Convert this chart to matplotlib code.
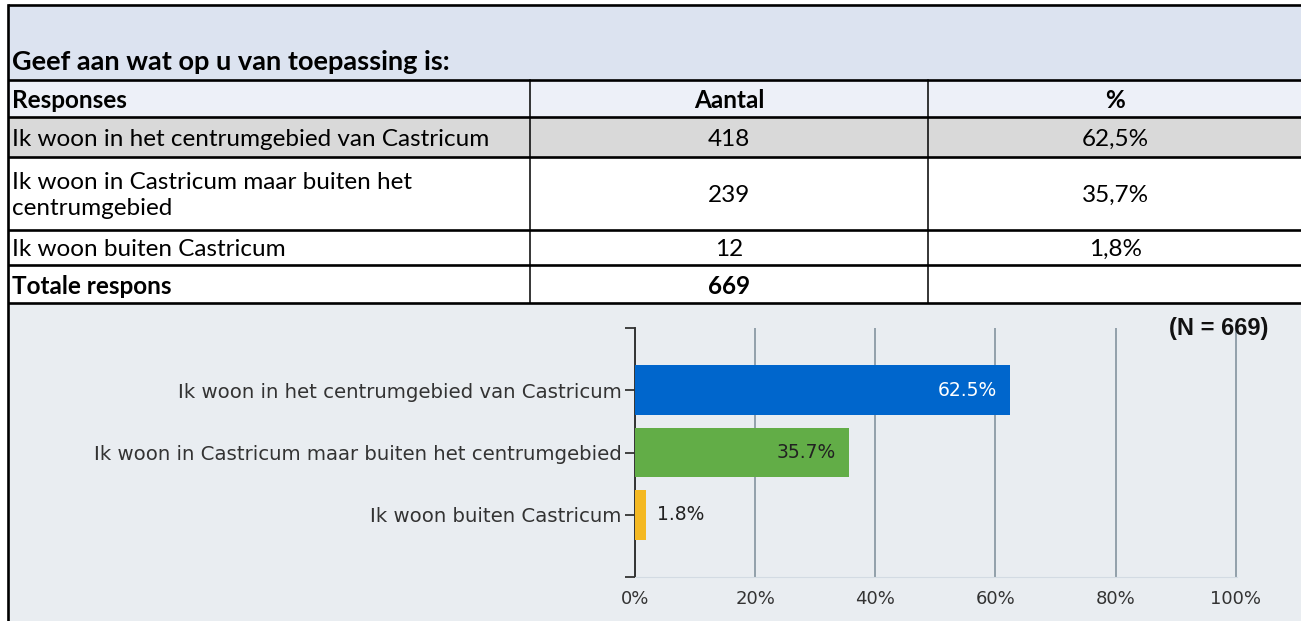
import numpy as np
import matplotlib.pyplot as plt
from matplotlib.patches import Rectangle

# survey result: question, answers, counts and percentages
question = "Geef aan wat op u van toepassing is:"
responses = ["Ik woon in het centrumgebied van Castricum",
             "Ik woon in Castricum maar buiten het centrumgebied",
             "Ik woon buiten Castricum"]
table_labels = ["Ik woon in het centrumgebied van Castricum",
                "Ik woon in Castricum maar buiten het\ncentrumgebied",
                "Ik woon buiten Castricum"]
counts = [418, 239, 12]
percent = [62.5, 35.7, 1.8]
total = 669
header = ["Responses", "Aantal", "%"]
total_label = "Totale respons"
bar_colors = ["#0066cc", "#62ad47", "#f4b822"]
value_colors = ["white", "#222222", "#222222"]
xticks = [0, 20, 40, 60, 80, 100]

W, H = 1301, 621
fig = plt.figure(figsize=(W / 100, H / 100), dpi=100)

# ---- table part, drawn in pixel coordinates ----
tab = fig.add_axes([0, 0, 1, 1])
tab.set_xlim(0, W)
tab.set_ylim(H, 0)
tab.axis("off")

left, c1, c2, right = 8, 530, 928, W + 5
rows = [5, 80, 117, 157, 230, 265, 303]
fills = ["#dce3f0", "#edf0f8", "#d9d9d9", "white", "white", "white"]
for i, fc in enumerate(fills):
    tab.add_patch(Rectangle((left, rows[i]), right - left, rows[i + 1] - rows[i],
                            facecolor=fc, edgecolor="none"))
# chart background
tab.add_patch(Rectangle((left, rows[-1]), right - left, H - rows[-1],
                        facecolor="#e9edf1", edgecolor="none"))

for yy in rows:
    tab.plot([left, right], [yy, yy], color="black", lw=1.9, solid_capstyle="butt")
tab.plot([left, left], [rows[0], H + 5], color="black", lw=1.9)
for xx in (c1, c2):
    tab.plot([xx, xx], [rows[1], rows[-1]], color="black", lw=1.1)

tfont = "Lato"
fs = 17.5
tab.text(12, 62, question, fontsize=19.5, weight="bold", family=tfont,
         ha="left", va="center")
hy = (rows[1] + rows[2]) / 2 + 2
tab.text(12, hy, header[0], fontsize=fs, weight="bold", family=tfont, ha="left", va="center")
tab.text((c1 + c2) / 2, hy, header[1], fontsize=fs, weight="bold", family=tfont,
         ha="center", va="center")
tab.text((c2 + W) / 2 + 1, hy, header[2], fontsize=fs, weight="bold", family=tfont,
         ha="center", va="center")

for i in range(len(responses)):
    ry = (rows[i + 2] + rows[i + 3]) / 2 + 2
    tab.text(12, ry, table_labels[i], fontsize=fs, family=tfont, ha="left",
             va="center", linespacing=1.25)
    tab.text((c1 + c2) / 2, ry, str(counts[i]), fontsize=fs, family=tfont,
             ha="center", va="center")
    tab.text((c2 + W) / 2 + 1, ry, f"{percent[i]:.1f}".replace(".", ",") + "%",
             fontsize=fs, family=tfont, ha="center", va="center")

ty = (rows[5] + rows[6]) / 2 + 2
tab.text(12, ty, total_label, fontsize=fs, weight="bold", family=tfont, ha="left", va="center")
tab.text((c1 + c2) / 2, ty, str(total), fontsize=fs, weight="bold", family=tfont,
         ha="center", va="center")

# ---- bar chart ----
ax = fig.add_axes([635 / W, 1 - 577 / H, (1237 - 635) / W, (577 - 328) / H])
ax.set_facecolor("none")
y = np.arange(len(responses))
ax.barh(y, percent, height=0.8, color=bar_colors, zorder=3)
ax.set_ylim(3, -1)
ax.set_xlim(0, 100.2)

ax.set_axisbelow(True)
ax.grid(axis="x", color="#8b9aa5", lw=1.3)
ax.set_xticks(xticks)
ax.set_xticklabels([f"{t}%" for t in xticks])
ax.tick_params(axis="x", length=0, pad=9, labelsize=13, labelcolor="#333333")

ax.set_yticks([-1, 0, 1, 2, 3])
ax.set_yticklabels([""] + responses + [""])
ax.tick_params(axis="y", length=7.5, width=1.3, color="#333333", pad=2,
               labelsize=14.2, labelcolor="#333333")

for s in ("top", "right"):
    ax.spines[s].set_visible(False)
ax.spines["left"].set_color("#333333")
ax.spines["left"].set_linewidth(1.4)
ax.spines["bottom"].set_color("#d3dbe3")

for i, p in enumerate(percent):
    if p > 10:
        ax.annotate(f"{p}%", (p, i), xytext=(-10, 0), textcoords="offset points",
                    ha="right", va="center", fontsize=13.5, color=value_colors[i], zorder=4)
    else:
        ax.annotate(f"{p}%", (p, i), xytext=(8, 0), textcoords="offset points",
                    ha="left", va="center", fontsize=13.5, color=value_colors[i], zorder=4)

ax.text(0.97, 1.0, f"(N = {total})", transform=ax.transAxes, ha="center", va="center",
        fontsize=17, weight="bold", family="Liberation Sans", color="#111111")

fig.savefig("out.png", dpi=100)
